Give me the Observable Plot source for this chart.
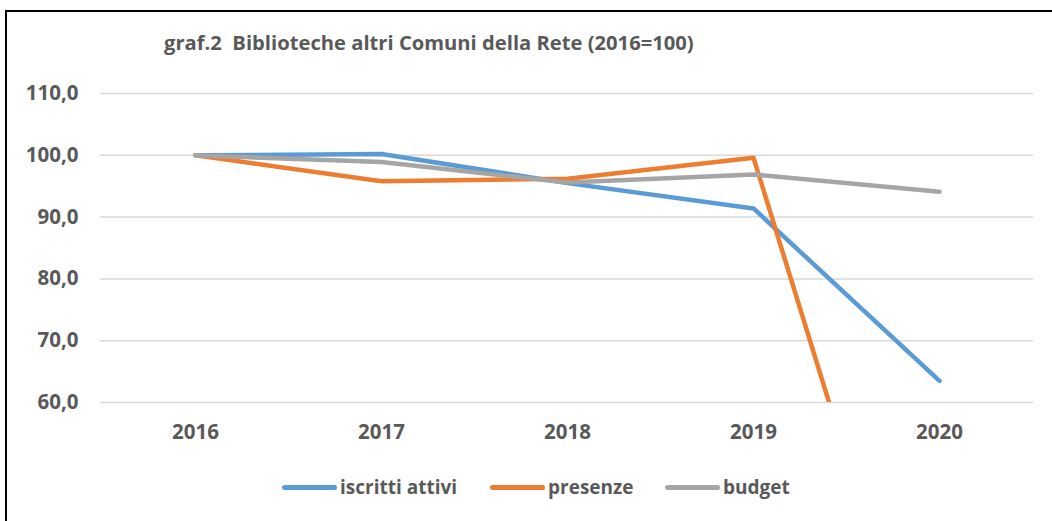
<!DOCTYPE html>
<html>
<head>
<meta charset="utf-8">
<script src="https://cdn.jsdelivr.net/npm/d3@7"></script>
<script src="https://cdn.jsdelivr.net/npm/@observablehq/plot@0.6"></script>
<style>
  html, body { margin: 0; padding: 0; background: #fff; }
  #wrap { position: relative; width: 1052px; height: 521px; overflow: hidden; font-family: "Open Sans", sans-serif; color: #595959; }
  #frame { position: absolute; left: 5px; top: 10px; width: 1060px; height: 530px; border-left: 2.5px solid #000; border-top: 2px solid #000; box-sizing: border-box; }
  #title { position: absolute; left: 164px; top: 29px; font-size: 20.2px; font-weight: bold; white-space: nowrap; line-height: 26px; }
  #chart { position: absolute; left: 0; top: 60px; }
  #legend { position: absolute; left: 0; top: 474px; width: 1052px; height: 26px; }
  .item { position: absolute; top: 0; display: flex; align-items: center; font-size: 19px; font-weight: bold; line-height: 26px; white-space: nowrap; }
  .swatch { width: 55px; height: 5px; border-radius: 3px; margin-right: 3px; }
</style>
</head>
<body>
<div id="wrap">
  <div id="frame"></div>
  <div id="title">graf.2&nbsp; Biblioteche altri Comuni della Rete (2016=100)</div>
  <div id="chart"></div>
  <div id="legend"></div>
</div>
<script>
const years = ["2016", "2017", "2018", "2019", "2020"];
const seriesNames = ["iscritti attivi", "presenze", "budget"];
const iscrittiAttivi = [100.0, 100.2, 95.5, 91.4, 63.5];
const presenze = [100.0, 95.8, 96.2, 99.6, 2.2];
const budget = [100.0, 98.9, 95.6, 96.9, 94.1];
const colors = ["#5B9BD5", "#ED7D31", "#A5A5A5"];
const yTicks = [60, 70, 80, 90, 100, 110];

const seriesValues = [iscrittiAttivi, presenze, budget];
const data = [];
seriesNames.forEach((s, i) => {
  years.forEach((y, j) => data.push({ series: s, year: y, value: seriesValues[i][j] }));
});

const fmt = v => d3.format(".1f")(v).replace(".", ",");

const chart = Plot.plot({
  width: 1052,
  height: 390,
  marginLeft: 100,
  marginRight: 19,
  marginTop: 33,
  marginBottom: 48,
  style: { fontFamily: "Open Sans, sans-serif", fontSize: "20.5px", fontWeight: "bold", color: "#595959", background: "transparent" },
  x: { type: "point", domain: years, padding: 0.5, label: null },
  y: { domain: [60, 110], label: null },
  color: { domain: seriesNames, range: colors },
  marks: [
    Plot.ruleY(yTicks, { stroke: "#D9D9D9", strokeWidth: 1.5 }),
    Plot.axisY({ ticks: yTicks, tickFormat: fmt, tickSize: 0, tickPadding: 22, label: null, fill: "#595959" }),
    Plot.axisX({ tickSize: 0, tickPadding: 22, label: null, fill: "#595959" }),
    Plot.line(data, {
      x: "year", y: "value", z: "series", stroke: "series",
      strokeWidth: 4.5, strokeLinecap: "round", strokeLinejoin: "round", clip: true
    })
  ]
});
document.getElementById("chart").appendChild(chart);

const legendPos = [282, 490, 665];
const legend = document.getElementById("legend");
seriesNames.forEach((s, i) => {
  const item = document.createElement("div");
  item.className = "item";
  item.style.left = legendPos[i] + "px";
  const sw = document.createElement("span");
  sw.className = "swatch";
  sw.style.background = colors[i];
  const t = document.createElement("span");
  t.textContent = s;
  item.appendChild(sw);
  item.appendChild(t);
  legend.appendChild(item);
});
</script>
</body>
</html>
